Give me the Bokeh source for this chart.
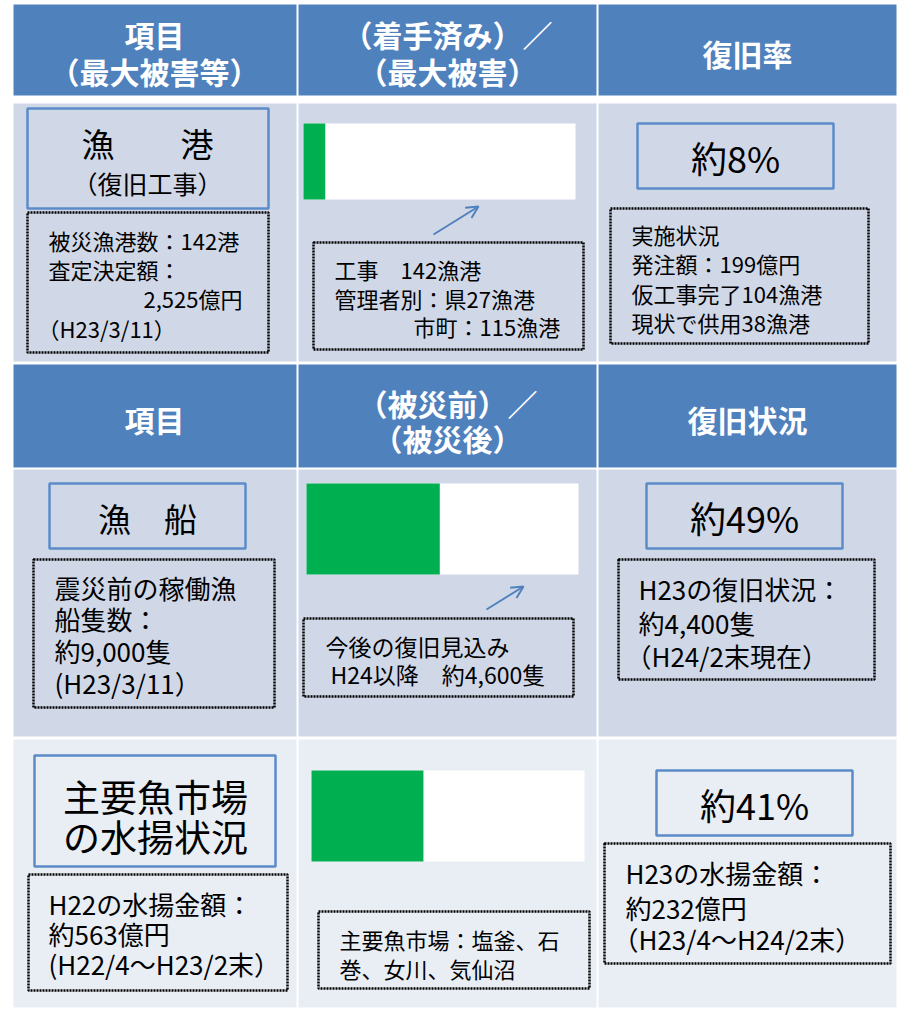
from bokeh.plotting import figure
from bokeh.models import Range1d, Arrow, OpenHead
from bokeh.core.properties import value
from bokeh.embed import file_html
from bokeh.resources import INLINE

# ---------------- data ----------------
header1 = [["項目", "（最大被害等）"], ["（着手済み）／", "（最大被害）"], ["復旧率"]]
header2 = [["項目"], ["（被災前）／", "（被災後）"], ["復旧状況"]]
item_titles = [["漁　　港"], ["漁　船"], ["主要魚市場", "の水揚状況"]]
item_sub = "（復旧工事）"
rates = [8, 49, 41]
rate_labels = ["約8%", "約49%", "約41%"]
left_notes = [
    ["被災漁港数：142港", "査定決定額：", "2,525億円", "（H23/3/11）"],
    ["震災前の稼働漁", "船隻数：", "約9,000隻", "(H23/3/11）"],
    ["H22の水揚金額：", "約563億円", "(H22/4～H23/2末）"],
]
mid_notes = [
    ["工事　142漁港", "管理者別：県27漁港", "市町：115漁港"],
    ["今後の復旧見込み", "H24以降　約4,600隻"],
    ["主要魚市場：塩釜、石", "巻、女川、気仙沼"],
]
right_notes = [
    ["実施状況", "発注額：199億円", "仮工事完了104漁港", "現状で供用38漁港"],
    ["H23の復旧状況：", "約4,400隻", "（H24/2末現在）"],
    ["H23の水揚金額：", "約232億円", "（H23/4～H24/2末）"],
]

# ---------------- layout / style ----------------
FONT = value("Noto Sans CJK JP")
BLUE = "#4F81BD"
CELL = "#D0D8E8"
CELL2 = "#E9EDF4"
GREEN = "#00B050"

W, H = 897, 1009
p = figure(width=W, height=H, x_range=Range1d(0, W), y_range=Range1d(H, 0),
           output_backend="svg", toolbar_location=None, min_border=0,
           x_axis_location=None, y_axis_location=None)
p.grid.visible = False
p.outline_line_color = None
p.background_fill_color = "white"
p.border_fill_color = "white"

cols = [(13, 296), (298, 596), (598, 896)]
rows = [(4, 95, BLUE), (103, 361, CELL), (364, 467, BLUE), (469, 736, CELL), (739, 1007, CELL2)]
L, R, T, B, C = [], [], [], [], []
for (t, b, c) in rows:
    for (l, r) in cols:
        L.append(l); R.append(r); T.append(t); B.append(b); C.append(c)
p.quad(left=L, right=R, top=T, bottom=B, fill_color=C, line_color=None)


def txt(x, y, s, size, align="left", bold=False, color="#000000"):
    p.text(x=[x], y=[y], text=[s], text_font=FONT, text_font_size=f"{size}px",
           text_align=align, text_baseline="middle", text_color=color,
           text_font_style="bold" if bold else "normal")


# headers
centers = [154, 447, 747]
hdr_y1 = [[33, 70], [33, 70], [52]]
hdr_y2 = [[418], [402, 437], [418]]
for i in range(3):
    for s, y in zip(header1[i], hdr_y1[i]):
        txt(centers[i], y, s, 30, "center", True, "white")
    for s, y in zip(header2[i], hdr_y2[i]):
        txt(centers[i], y, s, 30, "center", True, "white")

# title boxes (solid blue outline)
title_boxes = [(27, 268, 108, 208), (49, 245, 483, 548), (34, 275, 755, 866)]
rate_boxes = [(637, 833, 123, 188), (646, 842, 483, 548), (656, 852, 770, 835)]
for bx in title_boxes + rate_boxes:
    p.quad(left=[bx[0]], right=[bx[1]], top=[bx[2]], bottom=[bx[3]],
           fill_alpha=0, line_color="#5B8CC8", line_width=2.5)

# dotted boxes
dotted = [
    (27, 268, 212, 352), (313, 583, 242, 349), (610, 868, 208, 343),
    (33, 274, 559, 707), (303, 573, 618, 696), (618, 874, 559, 679),
    (28, 287, 874, 990), (318, 589, 911, 988), (604, 890, 843, 963),
]
for bx in dotted:
    p.quad(left=[bx[0]], right=[bx[1]], top=[bx[2]], bottom=[bx[3]],
           fill_alpha=0, line_color="black", line_width=2.5, line_dash="2 1")

# title texts
title_pos = [[(147, 142)], [(147, 517)], [(155, 795), (155, 835)]]
title_size = [33, 33, 37]
for i in range(3):
    for s, (x, y) in zip(item_titles[i], title_pos[i]):
        txt(x, y, s, title_size[i], "center")
txt(147, 182, item_sub, 25, "center")

# rate labels
rate_pos = [(735, 156), (744, 516), (754, 803)]
for s, (x, y) in zip(rate_labels, rate_pos):
    txt(x, y, s, 36, "center")

# bars: green = recovered share, white = remainder
bar_geom = [(303, 575, 123, 199), (306, 578, 483, 574), (311, 584, 770, 861)]
for rate, (x0, x1, t, b) in zip(rates, bar_geom):
    yc = (t + b) / 2
    h = b - t
    p.hbar(y=[yc], left=[x0], right=[x1], height=h, fill_color="white", line_color=None)
    p.hbar(y=[yc], left=[x0], right=[x0 + (x1 - x0) * rate / 100], height=h,
           fill_color=GREEN, line_color=None)

# arrows
for (xs, ys, xe, ye) in [(433, 234, 478, 206), (486, 609, 523, 586)]:
    p.add_layout(Arrow(x_start=xs, y_start=ys, x_end=xe, y_end=ye,
                       line_color=BLUE, line_width=2,
                       end=OpenHead(size=12, line_color=BLUE, line_width=2)))

# notes
left_pos = [
    [(48, 239), (48, 268), (143, 297), (37, 327)],
    [(54, 587), (54, 618), (54, 650), (54, 682)],
    [(48, 903), (48, 933), (48, 963)],
]
left_size = [22, 26, 26]
mid_pos = [
    [(334, 268), (334, 297), (413, 325)],
    [(325, 645), (330, 673)],
    [(339, 938), (339, 967)],
]
mid_size = [22, 23, 22]
right_pos = [
    [(631, 233), (631, 262), (631, 292), (631, 321)],
    [(638, 588), (638, 622), (625, 655)],
    [(625, 872), (625, 907), (612, 938)],
]
right_size = [22, 26, 26]
for notes, pos, sizes in [(left_notes, left_pos, left_size), (mid_notes, mid_pos, mid_size),
                          (right_notes, right_pos, right_size)]:
    for i in range(3):
        for s, (x, y) in zip(notes[i], pos[i]):
            txt(x, y, s, sizes[i])

open("out.html", "w").write(file_html(p, INLINE))
